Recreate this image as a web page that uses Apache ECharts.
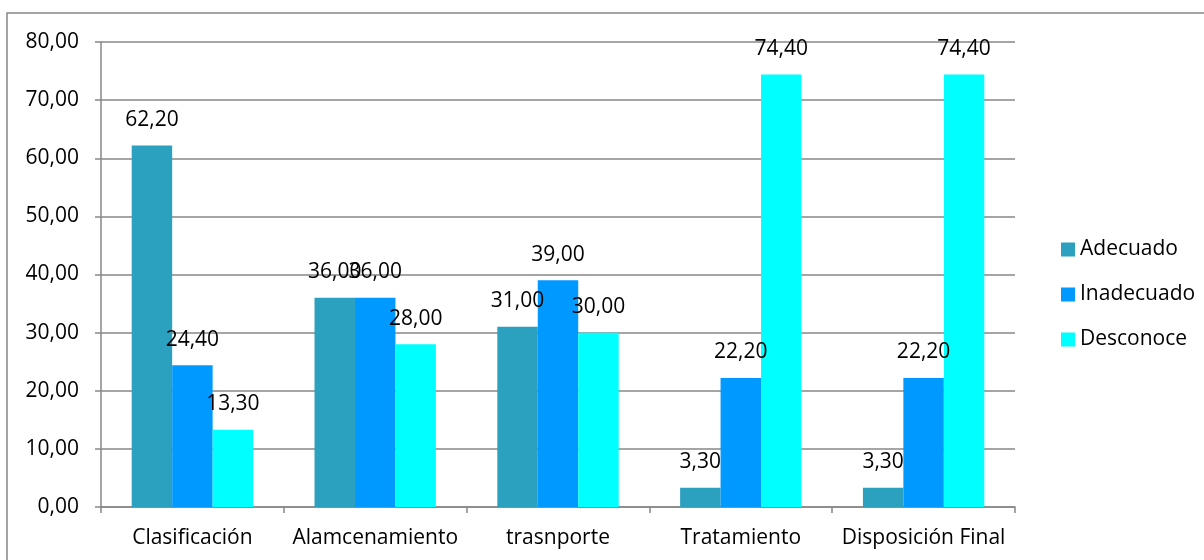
<!DOCTYPE html>
<html>
<head>
<meta charset="utf-8">
<script src="https://cdn.jsdelivr.net/npm/echarts@6/dist/echarts.min.js"></script>
<style>
  html, body { margin: 0; padding: 0; background: #fff; }
  #chart { width: 1204px; height: 560px; }
</style>
</head>
<body>
<div id="chart"></div>
<script>
// Etapas del manejo y porcentaje de respuestas por tipo
const categories = ['Clasificación', 'Alamcenamiento', 'trasnporte', 'Tratamiento', 'Disposición Final'];
const adecuado = [62.2, 36.0, 31.0, 3.3, 3.3];
const inadecuado = [24.4, 36.0, 39.0, 22.2, 22.2];
const desconoce = [13.3, 28.0, 30.0, 74.4, 74.4];
const seriesNames = ['Adecuado', 'Inadecuado', 'Desconoce'];
const seriesColors = ['#2ca1bf', '#0099ff', '#00ffff'];

const FONT = '"Open Sans", "Noto Sans", sans-serif';
const FS = 21;
const fmt = v => Number(v).toFixed(2).replace('.', ',');

const chart = echarts.init(document.getElementById('chart'), null, { renderer: 'canvas' });

function bar(name, data, color) {
  return {
    name: name,
    type: 'bar',
    data: data,
    barGap: '0%',
    barCategoryGap: '33.6%',
    itemStyle: { color: color },
    label: {
      show: true,
      position: 'top',
      distance: 15,
      color: '#000',
      fontFamily: FONT,
      fontSize: FS,
      formatter: p => fmt(p.value)
    }
  };
}

chart.setOption({
  animation: false,
  backgroundColor: '#fff',
  graphic: [{
    type: 'rect',
    shape: { x: 7, y: 13, width: 1400, height: 800 },
    style: { fill: 'none', stroke: '#878787', lineWidth: 1.5 },
    silent: true
  }],
  grid: { left: 101, right: 189, top: 42, bottom: 53 },
  legend: {
    orient: 'vertical',
    left: 1056,
    top: 234,
    itemWidth: 14,
    itemHeight: 14,
    itemGap: 24,
    icon: 'rect',
    data: seriesNames,
    textStyle: { fontFamily: FONT, fontSize: FS, color: '#000', lineHeight: 21 }
  },
  xAxis: {
    type: 'category',
    data: categories,
    axisLine: { lineStyle: { color: '#878787', width: 1.5 } },
    axisTick: { show: true, interval: 0, length: 6, lineStyle: { color: '#878787', width: 1.5 } },
    axisLabel: { interval: 0, color: '#000', fontFamily: FONT, fontSize: FS, margin: 21 }
  },
  yAxis: {
    type: 'value',
    min: 0,
    max: 80,
    interval: 10,
    axisLine: { show: true, lineStyle: { color: '#878787', width: 1.5 } },
    axisTick: { show: true, length: 6, lineStyle: { color: '#878787', width: 1.5 } },
    splitLine: { lineStyle: { color: '#878787', width: 1.5 } },
    axisLabel: { color: '#000', fontFamily: FONT, fontSize: FS, margin: 22, formatter: v => fmt(v) }
  },
  series: [
    bar(seriesNames[0], adecuado, seriesColors[0]),
    bar(seriesNames[1], inadecuado, seriesColors[1]),
    bar(seriesNames[2], desconoce, seriesColors[2])
  ]
});
</script>
</body>
</html>
